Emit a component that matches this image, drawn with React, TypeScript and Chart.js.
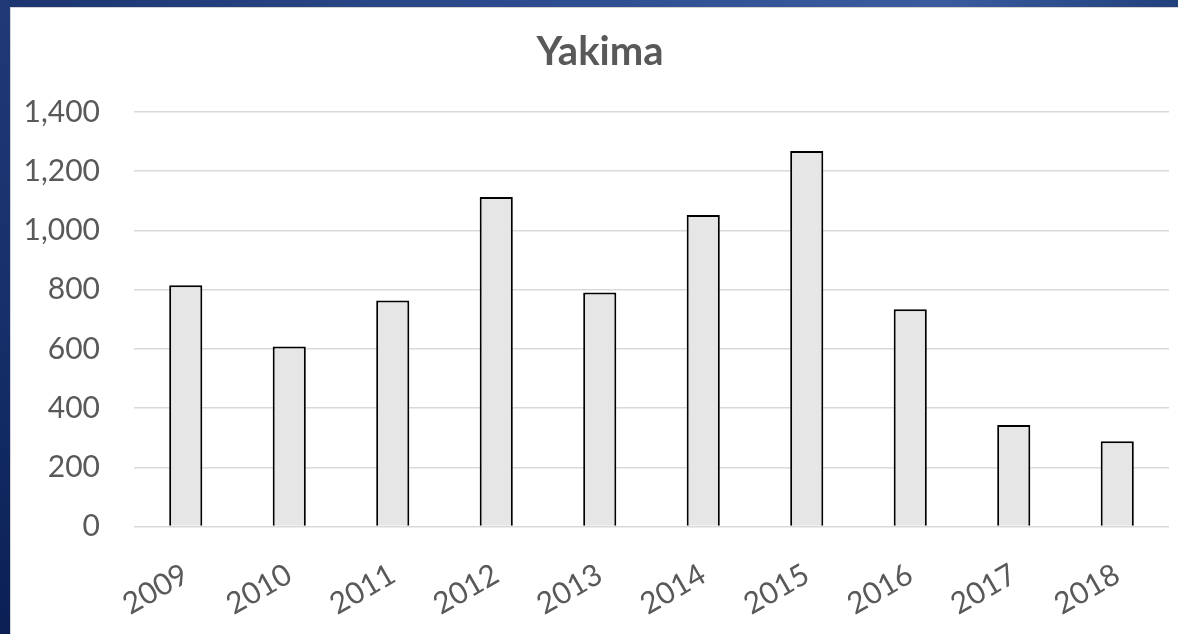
import React, { useEffect, useRef } from "react";
import { Chart, registerables } from "chart.js";

Chart.register(...registerables);

const TITLE = "Yakima";
const YEARS = ["2009", "2010", "2011", "2012", "2013", "2014", "2015", "2016", "2017", "2018"];
const VALUES = [815, 608, 763, 1113, 790, 1052, 1268, 734, 343, 288];
const Y_MIN = 0;
const Y_MAX = 1400;
const Y_STEP = 200;

const TEXT = "#595959";
const GRID = "#d9d9d9";
const FONT = "Lato, 'Open Sans', sans-serif";

// Title drawn centred on the slide panel (not on the chart's padded box)
const titlePlugin = {
  id: "centredTitle",
  afterDraw(chart: any) {
    const ctx = chart.ctx;
    ctx.save();
    ctx.font = `bold 40px ${FONT}`;
    ctx.fillStyle = TEXT;
    ctx.textAlign = "center";
    ctx.textBaseline = "middle";
    ctx.fillText(TITLE, 589, 44);
    ctx.restore();
  },
};

export default function App() {
  const ref = useRef<HTMLCanvasElement | null>(null);

  useEffect(() => {
    if (!ref.current) return;
    const chart = new Chart(ref.current, {
      type: "bar",
      data: {
        labels: YEARS,
        datasets: [
          {
            data: VALUES,
            backgroundColor: "#e6e6e6",
            borderColor: "#000000",
            borderWidth: 2,
            categoryPercentage: 1,
            barPercentage: 0.32,
          },
        ],
      },
      plugins: [titlePlugin],
      options: {
        responsive: false,
        animation: false,
        layout: { padding: { left: 0, right: 9, top: 104, bottom: 0 } },
        plugins: {
          legend: { display: false },
          tooltip: { enabled: false },
          title: { display: false },
        },
        scales: {
          x: {
            grid: { display: false, drawTicks: false },
            border: { display: false },
            ticks: {
              color: TEXT,
              font: { family: FONT, size: 30 },
              minRotation: 30,
              maxRotation: 30,
              padding: 30,
              labelOffset: 0,
              autoSkip: false,
            },
            afterFit: (s: any) => {
              s.height = 107.5;
            },
          },
          y: {
            min: Y_MIN,
            max: Y_MAX,
            ticks: {
              stepSize: Y_STEP,
              color: TEXT,
              font: { family: FONT, size: 30 },
              padding: 34,
              callback: (v: any) => Number(v).toLocaleString("en-US"),
            },
            grid: { color: GRID, lineWidth: 1.5, drawTicks: false },
            border: { display: false },
            afterFit: (s: any) => {
              s.width = 123;
            },
          },
        },
      },
    });
    return () => chart.destroy();
  }, []);

  return (
    <div
      style={{
        position: "fixed",
        inset: 0,
        background: "linear-gradient(90deg, #1c3570 0%, #2c4a8b 40%, #3a5c9e 80%, #22407c 100%)",
        overflow: "hidden",
      }}
    >
      <div
        style={{
          position: "absolute",
          left: 0,
          top: 0,
          width: 10,
          bottom: 0,
          background: "linear-gradient(180deg, #1f3a77 0%, #15306a 50%, #0b1f55 100%)",
        }}
      />
      <div
        style={{
          position: "absolute",
          left: 10,
          top: 7,
          right: 0,
          bottom: 0,
          background: "#ffffff",
          borderLeft: "1px solid #d4d4d4",
          borderTop: "1px solid #d4d4d4",
          overflow: "hidden",
        }}
      >
        <canvas ref={ref} width={1167} height={626} style={{ display: "block" }} />
      </div>
    </div>
  );
}
